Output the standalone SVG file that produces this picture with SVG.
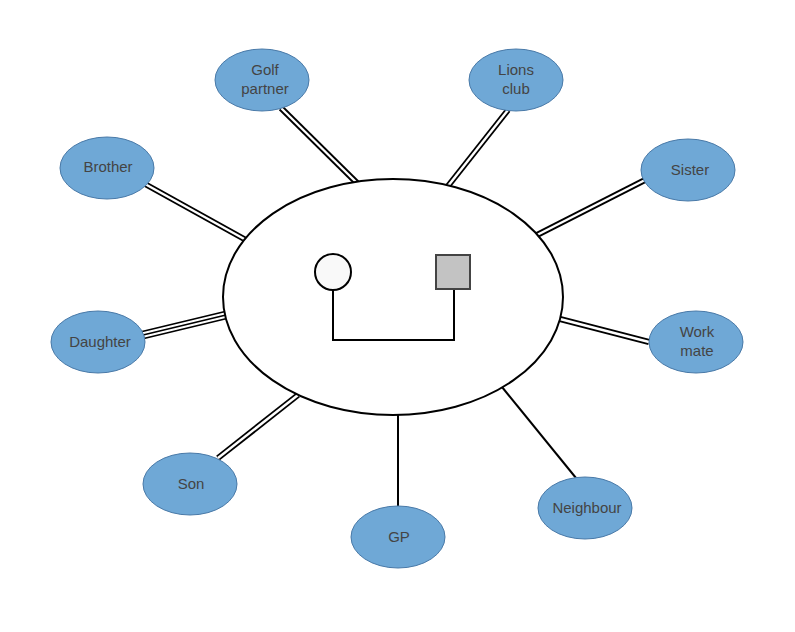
<svg xmlns="http://www.w3.org/2000/svg" width="795" height="632" viewBox="0 0 795 632">
<style>
.n ellipse{fill:#6fa8d6;stroke:#4a7aa8;stroke-width:1}
.n text{font-family:"Liberation Sans",Arial,sans-serif;font-size:15px;fill:#444;text-anchor:middle}
.dbo{stroke:#000;stroke-width:6;fill:none}
.dbi{stroke:#fff;stroke-width:2.4;fill:none}
.tro{stroke:#000;stroke-width:9;fill:none}
.trm{stroke:#fff;stroke-width:5.6;fill:none}
.tri{stroke:#000;stroke-width:1.8;fill:none}
.sg{stroke:#000;stroke-width:2;fill:none}
</style>
<rect width="795" height="632" fill="#fff"/>
<g id="connectors">
<line class="dbo" x1="281" y1="108" x2="357" y2="183"/><line class="dbi" x1="281" y1="108" x2="357" y2="183"/>
<line class="dbo" x1="508" y1="110" x2="448" y2="186"/><line class="dbi" x1="508" y1="110" x2="448" y2="186"/>
<line class="dbo" x1="145" y1="184" x2="246" y2="240"/><line class="dbi" x1="145" y1="184" x2="246" y2="240"/>
<line class="dbo" x1="645" y1="180" x2="537" y2="235"/><line class="dbi" x1="645" y1="180" x2="537" y2="235"/>
<line class="tro" x1="143" y1="335" x2="226" y2="315"/><line class="trm" x1="143" y1="335" x2="226" y2="315"/><line class="tri" x1="143" y1="335" x2="226" y2="315"/>
<line class="dbo" x1="649" y1="342" x2="560" y2="319"/><line class="dbi" x1="649" y1="342" x2="560" y2="319"/>
<line class="dbo" x1="218" y1="458" x2="298" y2="395"/><line class="dbi" x1="218" y1="458" x2="298" y2="395"/>
<line class="sg" x1="398" y1="506" x2="398" y2="415"/>
<line class="sg" x1="576" y1="478" x2="502" y2="387"/>
</g>
<g id="household">
<ellipse cx="393" cy="297" rx="170" ry="118" fill="#fff" stroke="#000" stroke-width="2"/>
<polyline points="333,290 333,340 454,340 454,289" class="sg"/>
<circle cx="333" cy="272" r="18" fill="#f9f9f9" stroke="#000" stroke-width="2"/>
<rect x="436" y="255" width="34" height="34" fill="#c3c3c3" stroke="#444" stroke-width="2"/>
</g>
<g id="golf" class="n"><ellipse cx="262" cy="80" rx="47" ry="31"/><text x="265" y="75">Golf</text><text x="265" y="94">partner</text></g>
<g id="lions" class="n"><ellipse cx="516" cy="80" rx="47" ry="31"/><text x="516" y="75">Lions</text><text x="516" y="94">club</text></g>
<g id="brother" class="n"><ellipse cx="107" cy="168" rx="47" ry="31"/><text x="108" y="172">Brother</text></g>
<g id="sister" class="n"><ellipse cx="688" cy="170" rx="47" ry="31"/><text x="690" y="175">Sister</text></g>
<g id="daughter" class="n"><ellipse cx="98" cy="342" rx="47" ry="31"/><text x="100" y="347">Daughter</text></g>
<g id="workmate" class="n"><ellipse cx="696" cy="342" rx="47" ry="31"/><text x="697" y="337">Work</text><text x="697" y="356">mate</text></g>
<g id="son" class="n"><ellipse cx="190" cy="484" rx="47" ry="31"/><text x="191" y="489">Son</text></g>
<g id="gp" class="n"><ellipse cx="398" cy="537" rx="47" ry="31"/><text x="399" y="542">GP</text></g>
<g id="neighbour" class="n"><ellipse cx="585" cy="508" rx="47" ry="31"/><text x="587" y="513">Neighbour</text></g>
</svg>
